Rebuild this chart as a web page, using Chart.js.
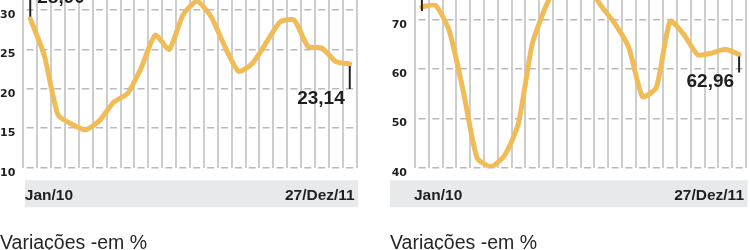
<!DOCTYPE html>
<html><head><meta charset="utf-8">
<script src="https://cdn.jsdelivr.net/npm/chart.js@4.4.1/dist/chart.umd.min.js"></script>
<style>
html,body{margin:0;padding:0;background:#fff;overflow:hidden;width:750px;height:250px;}
.wrap{position:absolute;top:-30px;width:375px;height:280px;}
canvas{display:block;}
</style></head><body>
<div class="wrap" style="left:0"><canvas id="c1" width="375" height="280"></canvas></div>
<div class="wrap" style="left:375px"><canvas id="c2" width="375" height="280"></canvas></div>
<script>
// ---- data ----
const categories = ['Jan/10','Fev/10','Mar/10','Abr/10','Mai/10','Jun/10','Jul/10','Ago/10','Set/10','Out/10','Nov/10','Dez/10',
                    'Jan/11','Fev/11','Mar/11','Abr/11','Mai/11','Jun/11','Jul/11','Ago/11','Set/11','Out/11','Nov/11','27/Dez/11'];
const leftValues  = [28.90, 24.3, 16.7, 15.5, 14.8, 16.0, 18.3, 19.4, 22.7, 26.8, 25.0, 29.4,
                     31.1, 29.2, 25.4, 22.2, 23.25, 25.9, 28.5, 28.7, 25.35, 25.15, 23.45, 23.14];
const rightValues = [72.60, 72.9, 67.6, 55.5, 42.0, 40.2, 42.5, 49.0, 65.1, 72.8, 78.0, 79.5,
                     77.0, 72.8, 69.2, 64.4, 54.4, 56.3, 69.7, 67.0, 62.9, 63.25, 64.05, 62.96];
const leftTicks  = [10, 15, 20, 25, 30];
const rightTicks = [40, 50, 60, 70];
const xFirstLabel = 'Jan/10';
const xLastLabel  = '27/Dez/11';
const subtitle = 'Variações -em %';

const LINE = '#f1bc57';
const fmt = v => v.toFixed(2).replace('.', ',');

const decor = {
  id: 'decor',
  afterDraw(chart, args, o) {
    const ctx = chart.ctx, a = chart.chartArea;
    ctx.save();
    // label band
    ctx.fillStyle = '#e8e9eb';
    ctx.fillRect(o.bandLeft, a.bottom + 12.5, a.right + 1.5 - o.bandLeft, 27);
    ctx.fillStyle = '#1f1f1f';
    ctx.font = 'bold 15.5px "Liberation Sans", Arial, sans-serif';
    ctx.textBaseline = 'alphabetic';
    ctx.textAlign = 'left';
    ctx.fillText(xFirstLabel, a.left + o.firstDx, a.bottom + 32.5);
    ctx.textAlign = 'right';
    ctx.fillText(xLastLabel, a.right - 2, a.bottom + 32.5);
    // subtitle
    ctx.fillStyle = '#262626';
    ctx.font = '19.5px "Liberation Sans", Arial, sans-serif';
    ctx.textAlign = 'left';
    ctx.fillText(subtitle, o.subX, 278.5);
    ctx.restore();
  },
  afterDatasetsDraw(chart, args, o) {
    const ctx = chart.ctx;
    const d = chart.data.datasets[0].data;
    const meta = chart.getDatasetMeta(0);
    const p0 = meta.data[0], pn = meta.data[d.length - 1];
    ctx.save();
    ctx.strokeStyle = '#222';
    ctx.lineWidth = 2;
    ctx.fillStyle = '#1e1e1e';
    ctx.font = 'bold 19px "Liberation Sans", Arial, sans-serif';
    ctx.textBaseline = 'alphabetic';
    // first value marker
    ctx.beginPath(); ctx.moveTo(p0.x, p0.y + o.firstStart); ctx.lineTo(p0.x, p0.y - 28); ctx.stroke();
    ctx.textAlign = 'left';
    ctx.fillText(fmt(d[0]), p0.x + 7, p0.y - 16);
    // last value marker
    ctx.beginPath(); ctx.moveTo(pn.x, pn.y + 2); ctx.lineTo(pn.x, pn.y + o.tick); ctx.stroke();
    ctx.textAlign = 'right';
    ctx.fillText(fmt(d[d.length - 1]), pn.x - 5, pn.y + o.tick + 14.5);
    ctx.restore();
  }
};

function makeChart(id, values, ticks, min, max, step, yWidth, padRight, dashPeriod, decorOpts) {
  return new Chart(document.getElementById(id), {
    type: 'line',
    data: {
      labels: categories,
      datasets: [{
        data: values,
        borderColor: LINE,
        borderWidth: 5,
        pointRadius: 0,
        tension: 0.2,
        borderJoinStyle: 'round',
        borderCapStyle: 'round',
        fill: false
      }]
    },
    options: {
      responsive: false,
      animation: false,
      devicePixelRatio: 1,
      layout: { padding: { top: 0.5, bottom: 82.3, left: 0, right: padRight } },
      plugins: { legend: { display: false }, tooltip: { enabled: false }, decor: decorOpts },
      scales: {
        x: {
          type: 'category',
          offset: true,
          grid: { offset: true, color: '#cdcdcd', lineWidth: 2, drawTicks: false },
          border: { display: false },
          ticks: { display: false },
          afterFit(s) { s.height = 0; s.paddingLeft = 0; s.paddingRight = 0; }
        },
        y: {
          min: min, max: max,
          afterBuildTicks(s) { s.ticks = ticks.map(v => ({ value: v })); },
          afterFit(s) { s.width = yWidth; s.paddingTop = 0; s.paddingBottom = 0; },
          grid: { color: '#b9b9b9', lineWidth: 1.6, drawTicks: false },
          border: { display: false, dash: [7, dashPeriod - 7], dashOffset: dashPeriod - 3.5 },
          ticks: {
            stepSize: step,
            padding: 8,
            labelOffset: 5,
            color: '#1e1e1e',
            font: { family: 'DejaVu Sans', weight: 'bold', size: 11 }
          }
        }
      }
    },
    plugins: [decor]
  });
}

makeChart('c1', leftValues, leftTicks, 10, 35, 5, 23.3, 18.3, 13.89,
  { bandLeft: 25, firstDx: 1.5, subX: 0, tick: 25, firstStart: -2 });
makeChart('c2', rightValues, rightTicks, 40, 80, 10, 40, 4, 13.79,
  { bandLeft: 15, firstDx: -1, subX: 15, tick: 18, firstStart: 4 });
</script>
</body></html>
